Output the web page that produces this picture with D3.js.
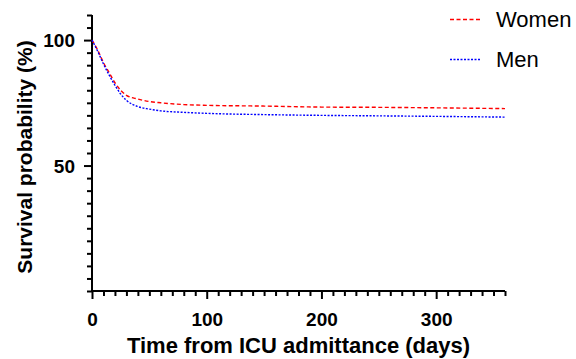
<!DOCTYPE html>
<html>
<head>
<meta charset="utf-8">
<script src="https://cdn.jsdelivr.net/npm/d3@7"></script>
<style>
  body { margin: 0; background: #fff; }
  svg { display: block; font-family: 'Liberation Sans', Arial, sans-serif; }
</style>
</head>
<body>
<div id="chart"></div>
<script>
// survival curves, days vs %
const days = [0, 5, 10, 15, 20, 25, 30, 40, 50, 60, 80, 100, 150, 200, 250, 300, 360];
const women = [100, 96, 91, 87, 83, 80, 78, 76.5, 75.5, 75, 74.3, 74, 73.7, 73.3, 73.2, 73, 72.7];
const men = [100, 95.5, 90.5, 86, 82, 78.5, 76, 73.5, 72.5, 71.8, 71.2, 70.8, 70.3, 70, 69.8, 69.6, 69.3];
const seriesNames = ['Women', 'Men'];
const xTicks = [0, 100, 200, 300];
const yTicks = [50, 100];

const W = 576, H = 359;
const margin = { top: 15, right: 71, bottom: 68, left: 92 };

const svg = d3.select('#chart').append('svg').attr('width', W).attr('height', H);

const x = d3.scaleLinear().domain([0, 360]).range([margin.left, W - margin.right]);
const y = d3.scaleLinear().domain([0, 110]).range([H - margin.bottom, margin.top]);

const series = [
  { name: seriesNames[0], values: women, color: '#ff0000', dash: '4,2.5' },
  { name: seriesNames[1], values: men, color: '#0000ff', dash: '2,1.5' },
];

const line = d3.line()
  .curve(d3.curveMonotoneX)
  .x((d, i) => x(days[i]))
  .y(d => y(d));

// y axis: minor ticks every 5, labels at 50, 100
const yAxis = svg.append('g').attr('transform', 'translate(' + margin.left + ',0)');
yAxis.call(d3.axisLeft(y).tickValues(d3.range(0, 111, 5)).tickSize(5).tickFormat(''));
yAxis.call(g => g.selectAll('.tick line')
  .attr('x2', d => (yTicks.includes(d) ? -8 : -5)));
yAxis.selectAll('.domain').attr('d', 'M0,' + y(110) + 'V' + y(0));
yAxis.selectAll('path, line').attr('stroke', '#000').attr('stroke-width', 2);
yAxis.selectAll('.tick').filter(d => yTicks.includes(d)).append('text')
  .attr('x', -17).attr('dy', '0.36em').attr('text-anchor', 'end')
  .attr('fill', '#000').style('font-size', '19px').style('font-weight', 'bold')
  .text(d => d);

// x axis: minor ticks every 10
const xAxis = svg.append('g').attr('transform', 'translate(0,' + y(0) + ')');
xAxis.call(d3.axisBottom(x).tickValues(d3.range(0, 361, 10)).tickSize(5).tickFormat(''));
xAxis.call(g => g.selectAll('.tick line')
  .attr('y2', d => (d % 100 === 0 ? 8 : 5)));
xAxis.selectAll('.domain').attr('d', 'M' + x(0) + ',0H' + x(360));
xAxis.selectAll('path, line').attr('stroke', '#000').attr('stroke-width', 2);
xAxis.selectAll('.tick').filter(d => xTicks.includes(d)).append('text')
  .attr('y', 35).attr('text-anchor', 'middle')
  .attr('fill', '#000').style('font-size', '19px').style('font-weight', 'bold')
  .text(d => d);

// axis titles
svg.append('text')
  .attr('x', (x(0) + x(360)) / 2).attr('y', 353)
  .attr('text-anchor', 'middle').style('font-size', '22px').style('font-weight', 'bold')
  .text('Time from ICU admittance (days)');
svg.append('text')
  .attr('transform', 'translate(32,' + 157 + ') rotate(-90)')
  .attr('text-anchor', 'middle').style('font-size', '21px').style('font-weight', 'bold')
  .text('Survival probability (%)');

// curves
svg.append('g').selectAll('path').data(series).join('path')
  .attr('d', d => line(d.values))
  .attr('fill', 'none')
  .attr('stroke', d => d.color)
  .attr('stroke-width', 1.4)
  .attr('stroke-dasharray', d => d.dash);

// legend
const legend = svg.append('g').selectAll('g').data(series).join('g')
  .attr('transform', (d, i) => 'translate(450,' + (19.5 + i * 40) + ')');
legend.append('line')
  .attr('x1', 0).attr('x2', 31)
  .attr('stroke', d => d.color).attr('stroke-width', 1.4)
  .attr('stroke-dasharray', d => d.dash);
legend.append('text')
  .attr('x', 46).attr('y', 7.5)
  .style('font-size', '22px')
  .text(d => d.name);
</script>
</body>
</html>
